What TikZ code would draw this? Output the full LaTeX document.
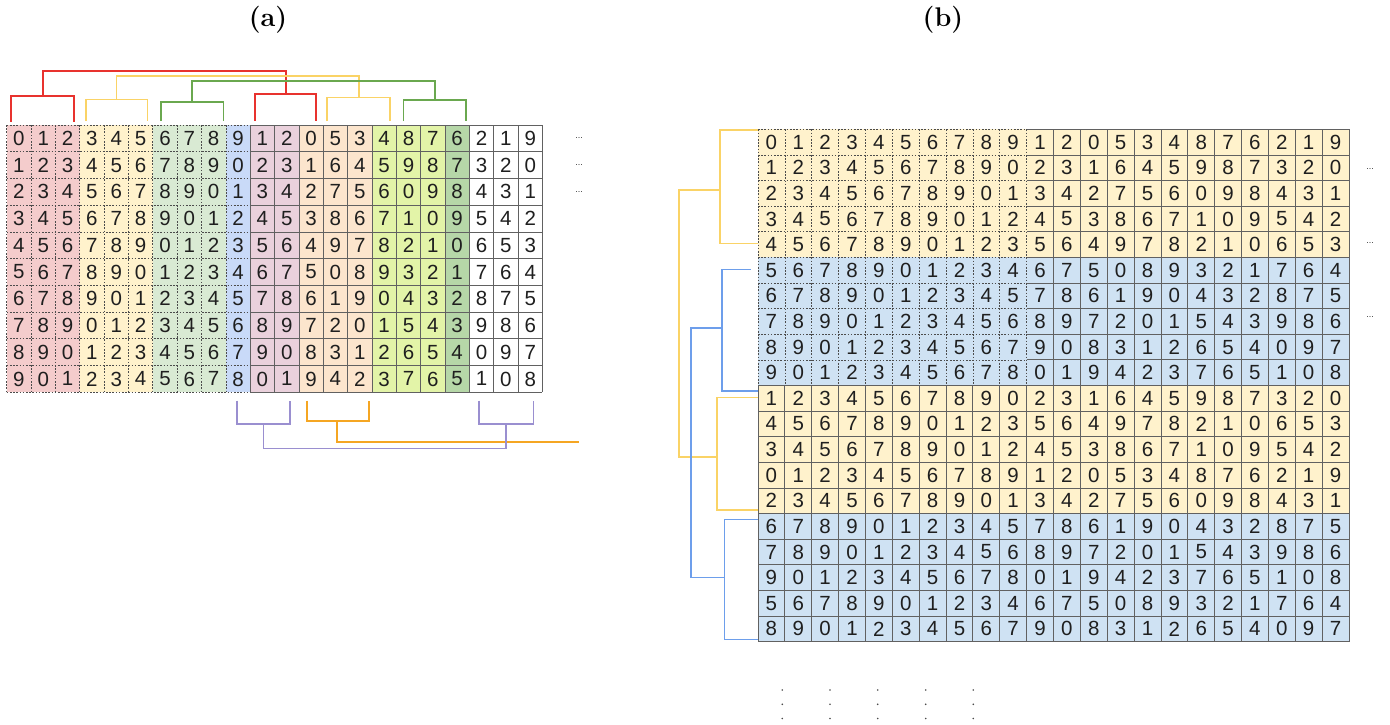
\documentclass[tikz,border=0pt]{standalone}
\usepackage{fontspec}
\newfontfamily\digitfont{Liberation Sans}
\definecolor{pinkA}{HTML}{F4CCCC}
\definecolor{yelA}{HTML}{FFF2CC}
\definecolor{grnA}{HTML}{D9EAD3}
\definecolor{bluA}{HTML}{C9DAF8}
\definecolor{purA}{HTML}{EAD1DC}
\definecolor{orA}{HTML}{FCE5CD}
\definecolor{limA}{HTML}{E3F4A8}
\definecolor{dgrA}{HTML}{B6D7A8}
\definecolor{yelB}{HTML}{FFF2CC}
\definecolor{bluB}{HTML}{CFE2F3}
\definecolor{lnRed}{HTML}{E8322E}
\definecolor{lnYel}{HTML}{FAD366}
\definecolor{lnGrn}{HTML}{6AA84F}
\definecolor{lnPur}{HTML}{9A8FD0}
\definecolor{lnOr}{HTML}{F5A623}
\definecolor{lnBlu}{HTML}{6D9EEB}
\begin{document}
\begin{tikzpicture}[x=1pt,y=-1pt,
  dig/.style={font=\digitfont\fontsize{20.5}{20.5}\selectfont, text=black!88, inner sep=0pt},
  cellsolid/.style={draw=black!62, line width=0.8pt},
  celldash/.style={draw=black!70, line width=0.7pt, dash pattern=on 1.6pt off 1.6pt},
  br/.style={line width=1.6pt},
  ell/.style={font=\digitfont\fontsize{9}{9}\selectfont, text=black!80, inner sep=0pt},
  ttl/.style={font=\fontsize{27}{29}\selectfont\bfseries, inner sep=0pt}]
\useasboundingbox (0,0) rectangle (1390,724);
% titles
\node[ttl] (ta) at (268,20) {(a)};
\node[ttl] (tb) at (943,20) {(b)};
% ---------------- panel (a)
\def\ax{6.7}\def\acw{24.35}\def\ay{125}\def\arh{26.73}
\foreach \a/\b/\col in {0/3/pinkA,3/6/yelA,6/9/grnA,9/10/bluA,10/12/purA,12/15/orA,15/18/limA,18/19/dgrA}
  \fill[\col] ({\ax+\a*\acw},\ay) rectangle ({\ax+\b*\acw},{\ay+10*\arh});
\foreach \c in {0,...,9}
  \draw[celldash] ({\ax+\c*\acw},\ay) -- ({\ax+\c*\acw},{\ay+10*\arh});
\foreach \r in {0,...,10}
  \draw[celldash] (\ax,{\ay+\r*\arh}) -- ({\ax+10*\acw},{\ay+\r*\arh});
\foreach \c in {10,...,22}
  \draw[cellsolid] ({\ax+\c*\acw},\ay) -- ({\ax+\c*\acw},{\ay+10*\arh});
\foreach \r in {0,...,10}
  \draw[cellsolid] ({\ax+10*\acw},{\ay+\r*\arh}) -- ({\ax+22*\acw},{\ay+\r*\arh});
\foreach \v [count=\c from 0] in {0,1,2,3,4,5,6,7,8,9,1,2,0,5,3,4,8,7,6,2,1,9} {
  \foreach \r in {0,...,9} {
    \pgfmathtruncatemacro\d{mod(\v+\r,10)}
    \node[dig] (a-\r-\c) at ({\ax+(\c+0.5)*\acw},{\ay+(\r+0.5)*\arh}) {\d};
  }
}
% top brackets
\draw[br,lnRed] (11,121.5) |- (74,96) -- (74,121.5);
\draw[br,lnRed] (42.7,96) -- (42.7,70.7) -| (285.7,94);
\draw[br,lnRed] (255,121) |- (316,94) -- (316,121);
\draw[br,lnYel] (85.7,121) |- (147.3,99.3) -- (147.3,121);
\draw[br,lnYel] (116.3,99.3) -- (116.3,75.7) -| (359,97.3);
\draw[br,lnYel] (326.7,121) |- (389.7,97.3) -- (389.7,121);
\draw[br,lnGrn] (160.7,121) |- (223.3,101.7) -- (223.3,121);
\draw[br,lnGrn] (192,101.7) -- (192,81) -| (435,100);
\draw[br,lnGrn] (403.3,121) |- (466,100) -- (466,121);
% bottom brackets
\draw[br,lnOr] (306.7,400.7) |- (369,420.7) -- (369,400.7);
\draw[br,lnOr] (336.7,420.7) -- (336.7,441.7) -- (579.3,441.7);
\draw[br,lnPur] (236.7,400.7) |- (290,424) -- (290,400.7);
\draw[br,lnPur] (263.3,424) -- (263.3,448.3) -| (506,424);
\draw[br,lnPur] (479,400.7) |- (533.3,424) -- (533.3,400.7);
% ellipses (a)
\node[ell] (ea1) at (579,138.4) {...};
\node[ell] (ea2) at (579,165.5) {...};
\node[ell] (ea3) at (579,192.5) {...};
% ---------------- panel (b)
\def\bx{758}\def\bcw{26.86}\def\by{129.3}\def\brh{25.62}
\foreach \a/\b/\col in {0/5/yelB,5/10/bluB,10/15/yelB,15/20/bluB}
  \fill[\col] (\bx,{\by+\a*\brh}) rectangle ({\bx+22*\bcw},{\by+\b*\brh});
\foreach \c in {0,...,10}
  \draw[celldash] ({\bx+\c*\bcw},\by) -- ({\bx+\c*\bcw},{\by+10*\brh});
\foreach \r in {0,...,9}
  \draw[celldash] (\bx,{\by+\r*\brh}) -- ({\bx+10*\bcw},{\by+\r*\brh});
\foreach \c in {11,...,22}
  \draw[cellsolid] ({\bx+\c*\bcw},\by) -- ({\bx+\c*\bcw},{\by+10*\brh});
\foreach \r in {0,...,9}
  \draw[cellsolid] ({\bx+10*\bcw},{\by+\r*\brh}) -- ({\bx+22*\bcw},{\by+\r*\brh});
\foreach \c in {0,...,22}
  \draw[cellsolid] ({\bx+\c*\bcw},{\by+10*\brh}) -- ({\bx+\c*\bcw},{\by+20*\brh});
\foreach \r in {10,...,20}
  \draw[cellsolid] (\bx,{\by+\r*\brh}) -- ({\bx+22*\bcw},{\by+\r*\brh});
\foreach \o [count=\r from 0] in {0,1,2,3,4,5,6,7,8,9,1,4,3,0,2,6,7,9,5,8} {
  \foreach \v [count=\c from 0] in {0,1,2,3,4,5,6,7,8,9,1,2,0,5,3,4,8,7,6,2,1,9} {
    \pgfmathtruncatemacro\d{mod(\v+\o,10)}
    \node[dig] (b-\r-\c) at ({\bx+(\c+0.5)*\bcw},{\by+(\r+0.5)*\brh}) {\d};
  }
}
% dendrogram (b)
\draw[br,lnYel] (758,130) -| (720,243.3) -- (758,243.3);
\draw[br,lnYel] (720,190) -- (679,190) |- (716.7,456.7);
\draw[br,lnYel] (758,397.3) -| (716.7,510) -- (758,510);
\draw[br,lnBlu] (750.7,269.3) -| (721.7,390.7) -- (758,390.7);
\draw[br,lnBlu] (721.7,327.7) -- (690.7,327.7) |- (724.3,577.3);
\draw[br,lnBlu] (758,519.3) -| (724.3,639.3) -- (758,639.3);
% ellipses (b)
\node[ell] (eb1) at (1370,169.3) {...};
\node[ell] (eb2) at (1370,242.7) {...};
\node[ell] (eb3) at (1370,316.7) {...};
% vertical dots
\foreach \x in {782.3,830,877.7,925.7,973.3}
  \foreach \y in {690,704.3,718.5}
    \fill[black!70] (\x,\y) circle (0.9pt);
\end{tikzpicture}
\end{document}
